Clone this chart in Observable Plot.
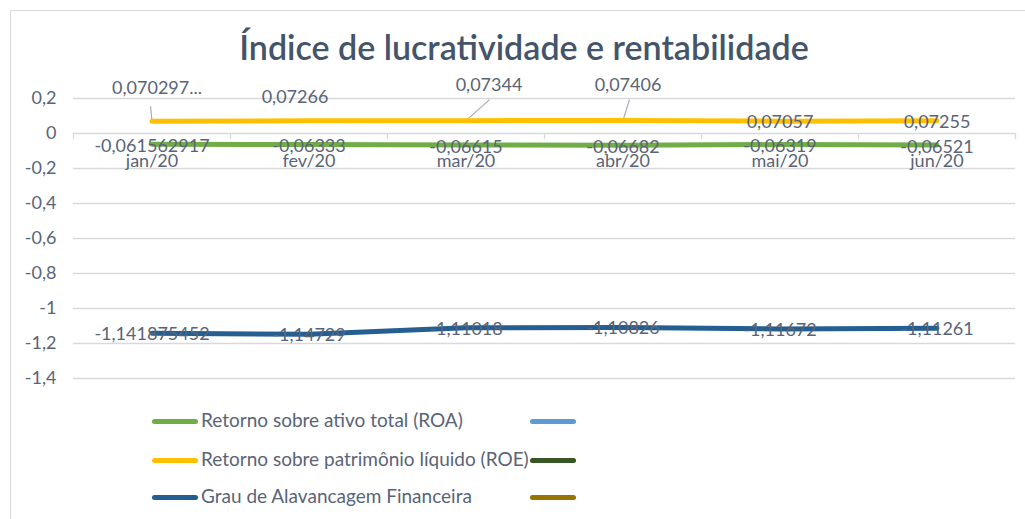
<!DOCTYPE html>
<html>
<head>
<meta charset="utf-8">
<script src="https://cdn.jsdelivr.net/npm/d3@7"></script>
<script src="https://cdn.jsdelivr.net/npm/@observablehq/plot@0.6"></script>
<style>
  html, body { margin: 0; padding: 0; background: #fff; }
  #frame { position: relative; width: 1025px; height: 519px; overflow: hidden; font-family: Lato, "Open Sans", sans-serif; }
  #box { position: absolute; left: 10px; top: 10px; width: 1040px; height: 540px; border: 1px solid #d9d9d9; box-sizing: border-box; }
  #title { position: absolute; left: 0; top: 27px; width: 1048px; text-align: center; font-size: 34px; font-weight: 600; color: #44546a; line-height: 40px; }
  #chart { position: absolute; left: 0; top: 70px; }
  .leg { position: absolute; font-size: 19px; color: #5a6477; line-height: 24px; white-space: nowrap; }
  .mk { position: absolute; width: 46px; height: 5px; border-radius: 3px; }
</style>
</head>
<body>
<div id="frame">
  <div id="box"></div>
  <div id="title">Índice de lucratividade e rentabilidade</div>
  <div id="chart"></div>
  <div id="legend"></div>
</div>
<script>
// ---- data ----
const categories = ["jan/20", "fev/20", "mar/20", "abr/20", "mai/20", "jun/20"];
const roa = [-0.061562917, -0.06333, -0.06615, -0.06682, -0.06319, -0.06521];
const roe = [0.0702971, 0.07266, 0.07344, 0.07406, 0.07057, 0.07255];
const gaf = [-1.141875452, -1.14729, -1.11018, -1.10826, -1.11672, -1.11261];
const yTicks = [0.2, 0, -0.2, -0.4, -0.6, -0.8, -1, -1.2, -1.4];
const seriesNames = ["Retorno sobre ativo total (ROA)", "Retorno sobre patrimônio líquido (ROE)", "Grau de Alavancagem Financeira", "", "", ""];
const seriesColors = ["#70ad47", "#ffc000", "#255e91", "#5b9bd5", "#375623", "#997300"];

// ---- build table ----
const rows = (vals) => vals.map((v, i) => ({i, x: i + 0.5, v, cat: categories[i]}));
const roaRows = rows(roa), roeRows = rows(roe), gafRows = rows(gaf);

const fmt = (v) => String(v).replace(".", ",");
const fmtTrunc = (v) => { const s = fmt(v); return s.length > 8 ? s.slice(0, 8) + "..." : s; };

const W = 1025, H = 330, mT = 28, mB = 22, mL = 73, mR = 10;
const yDom = [d3.min(yTicks), d3.max(yTicks)];
const pxY = (px) => px * (yDom[1] - yDom[0]) / (H - mT - mB);
const pxX = (px) => px * categories.length / (W - mL - mR);

const textColor = "#5a6477";
const font = 18;

// placement of ROE labels (Excel-like manual positions)
const roePlace = [
  {dx: 5, dy: -33, lead: [-1.5, 15]},
  {dx: -14, dy: -24},
  {dx: 23, dy: -35, lead: [23.5, 21]},
  {dx: 5, dy: -35, lead: [6.5, 21]},
  {dx: 0, dy: 1},
  {dx: 0, dy: 1}
];

const roeLabelMarks = roePlace.map((p, k) =>
  Plot.text(roeRows.filter(d => d.i === k), {x: "x", y: "v", text: d => fmtTrunc(d.v), dx: p.dx, dy: p.dy, fill: textColor, fontSize: font})
);
const leaderRows = roeRows.filter(d => roePlace[d.i].lead).map(d => ({
  x1: d.x, y1: d.v,
  x2: d.x + pxX(roePlace[d.i].lead[0]), y2: d.v + pxY(roePlace[d.i].lead[1])
}));

const chart = Plot.plot({
  width: W, height: H,
  marginTop: mT, marginBottom: mB, marginLeft: mL, marginRight: mR,
  style: {fontFamily: "Lato, 'Open Sans', sans-serif", fontSize: font + "px", color: textColor, background: "transparent"},
  x: {domain: [0, categories.length], axis: null},
  y: {domain: yDom, ticks: yTicks, tickFormat: d => fmt(+d.toFixed(1)), tickSize: 0, tickPadding: 17, label: null},
  marks: [
    Plot.ruleY(yTicks, {stroke: "#d9d9d9", strokeWidth: 1.3}),
    Plot.ruleX(d3.range(categories.length + 1), {x: d => d, y1: 0, y2: 0, insetBottom: -6, stroke: "#d9d9d9", strokeWidth: 1.3}),
    Plot.link(leaderRows, {x1: "x1", y1: "y1", x2: "x2", y2: "y2", stroke: "#a6acb5", strokeWidth: 1.2}),
    Plot.line(roeRows, {x: "x", y: "v", stroke: seriesColors[1], strokeWidth: 5, strokeLinecap: "round"}),
    Plot.line(roaRows, {x: "x", y: "v", stroke: seriesColors[0], strokeWidth: 5, strokeLinecap: "round"}),
    Plot.line(gafRows, {x: "x", y: "v", stroke: seriesColors[2], strokeWidth: 5, strokeLinecap: "round"}),
    Plot.text(roaRows, {x: "x", y: "v", text: d => fmt(d.v), dy: 2, fill: textColor, fontSize: font}),
    Plot.text(gafRows, {x: "x", y: "v", text: d => fmt(d.v), dy: 1, fill: textColor, fontSize: font}),
    ...roeLabelMarks,
    Plot.text(roaRows, {x: "x", y: () => 0, text: "cat", dy: 28, fill: textColor, fontSize: font})
  ]
});
document.getElementById("chart").appendChild(chart);

// ---- legend ----
const legend = document.getElementById("legend");
const legRowsY = [421, 460, 497];
seriesNames.forEach((name, k) => {
  const col = Math.floor(k / 3), row = k % 3;
  const mk = document.createElement("div");
  mk.className = "mk";
  mk.style.background = seriesColors[k];
  mk.style.left = (col === 0 ? 152 : 530) + "px";
  mk.style.top = (legRowsY[row] - 2.5) + "px";
  legend.appendChild(mk);
  if (name) {
    const t = document.createElement("div");
    t.className = "leg";
    t.textContent = name;
    t.style.left = (col === 0 ? 201 : 580) + "px";
    t.style.top = (legRowsY[row] - 13) + "px";
    legend.appendChild(t);
  }
});
</script>
</body>
</html>
